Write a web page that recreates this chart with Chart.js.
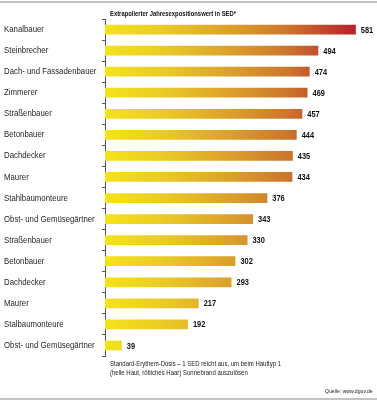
<!DOCTYPE html>
<html lang="de">
<head>
<meta charset="UTF-8">
<title>SED</title>
<script src="https://cdn.jsdelivr.net/npm/chart.js@4/dist/chart.umd.min.js"></script>
<style>
  html, body { margin: 0; padding: 0; background: #fff; }
  #wrap { position: relative; width: 377px; height: 400px; overflow: hidden; font-family: 'Liberation Sans', Arial, sans-serif; }
  #wrap canvas { position: absolute; left: 0; top: 0; }
  .rule { position: absolute; left: 0; width: 377px; height: 1.5px; background: #c4c4c4; }
  .txt { position: absolute; white-space: nowrap; color: #222; transform-origin: left top; }
</style>
</head>
<body>
<div id="wrap">
  <canvas id="chart" width="377" height="400"></canvas>
  <div class="rule" style="top:1px"></div>
  <div class="rule" style="top:398px"></div>
  <div class="txt" style="left:110px; top:9.5px; font-size:6.3px; font-weight:bold; color:#111; transform:scaleX(0.93)">Extrapolierter Jahresexpositionswert in SED*</div>
  <div class="txt" style="left:110px; top:359px; font-size:6.6px; line-height:9px; transform:scaleX(0.91)">Standard-Erythem-Dosis – 1 SED reicht aus, um beim Hauttyp 1<br>(helle Haut, rötliches Haar) Sonnebrand auszulösen</div>
  <div class="txt" style="left:325px; top:388px; font-size:5.7px; transform:scaleX(0.9)">Quelle: www.dguv.de</div>
</div>
<script>
// Berufe (von oben nach unten)
const berufe = [
  'Kanalbauer', 'Steinbrecher', 'Dach- und Fassadenbauer', 'Zimmerer',
  'Straßenbauer', 'Betonbauer', 'Dachdecker', 'Maurer',
  'Stahlbaumonteure', 'Obst- und Gemüsegärtner', 'Straßenbauer', 'Betonbauer',
  'Dachdecker', 'Maurer', 'Stalbaumonteure', 'Obst- und Gemüsegärtner'
];
// Extrapolierter Jahresexpositionswert in SED
const sedWerte = [581, 494, 474, 469, 457, 444, 435, 434, 376, 343, 330, 302, 293, 217, 192, 39];

const FONT = '"Liberation Sans", Arial, sans-serif';

// Farbverlauf gelb -> rot über die x-Achse
function barGradient(context) {
  const chart = context.chart;
  const x = chart.scales.x;
  if (!chart.chartArea || !x) return '#f0d020';
  const x0 = x.getPixelForValue(0);
  const x1 = x.getPixelForValue(581);
  const g = chart.ctx.createLinearGradient(x0, 0, x1, 0);
  g.addColorStop(0, '#f5e31b');
  g.addColorStop(0.25, '#e9c825');
  g.addColorStop(0.5, '#dba02a');
  g.addColorStop(0.72, '#cd782c');
  g.addColorStop(1, '#b62128');
  return g;
}

// schmale Schrift nachbilden: horizontal gestaucht zeichnen
function narrowText(ctx, text, x, y, sx) {
  ctx.save();
  ctx.translate(x, y);
  ctx.scale(sx, 1);
  ctx.fillText(text, 0, 0);
  ctx.restore();
}

// Kategorienamen links und Werte rechts neben den Balken
const textLabels = {
  id: 'textLabels',
  afterDatasetsDraw(chart) {
    const ctx = chart.ctx;
    const y = chart.scales.y;
    const meta = chart.getDatasetMeta(0);
    ctx.save();
    ctx.textBaseline = 'middle';
    ctx.textAlign = 'left';
    ctx.font = '9.3px ' + FONT;
    ctx.fillStyle = '#262626';
    berufe.forEach((name, i) => {
      narrowText(ctx, name, 4, y.getPixelForTick(i), 0.84);
    });
    ctx.font = 'bold 9.3px ' + FONT;
    ctx.fillStyle = '#111';
    meta.data.forEach((bar, i) => {
      narrowText(ctx, String(sedWerte[i]), bar.x + 5, bar.y + 0.5, 0.8);
    });
    ctx.restore();
  }
};

new Chart(document.getElementById('chart'), {
  type: 'bar',
  data: {
    labels: berufe,
    datasets: [{
      data: sedWerte,
      backgroundColor: barGradient,
      borderWidth: 0,
      categoryPercentage: 1,
      barPercentage: 0.46
    }]
  },
  options: {
    indexAxis: 'y',
    responsive: false,
    animation: false,
    events: [],
    layout: { padding: { left: 4, top: 19, right: 0, bottom: 44 } },
    plugins: { legend: { display: false }, tooltip: { enabled: false } },
    scales: {
      x: { display: false, min: 0, max: 630 },
      y: {
        afterFit(scale) { scale.width = 101; },
        border: { display: true, color: '#555', width: 1 },
        grid: { drawOnChartArea: false, tickLength: 3, color: '#555', offset: true },
        ticks: { color: 'rgba(0,0,0,0)', font: { family: FONT, size: 9 } }
      }
    }
  },
  plugins: [textLabels]
});
</script>
</body>
</html>
